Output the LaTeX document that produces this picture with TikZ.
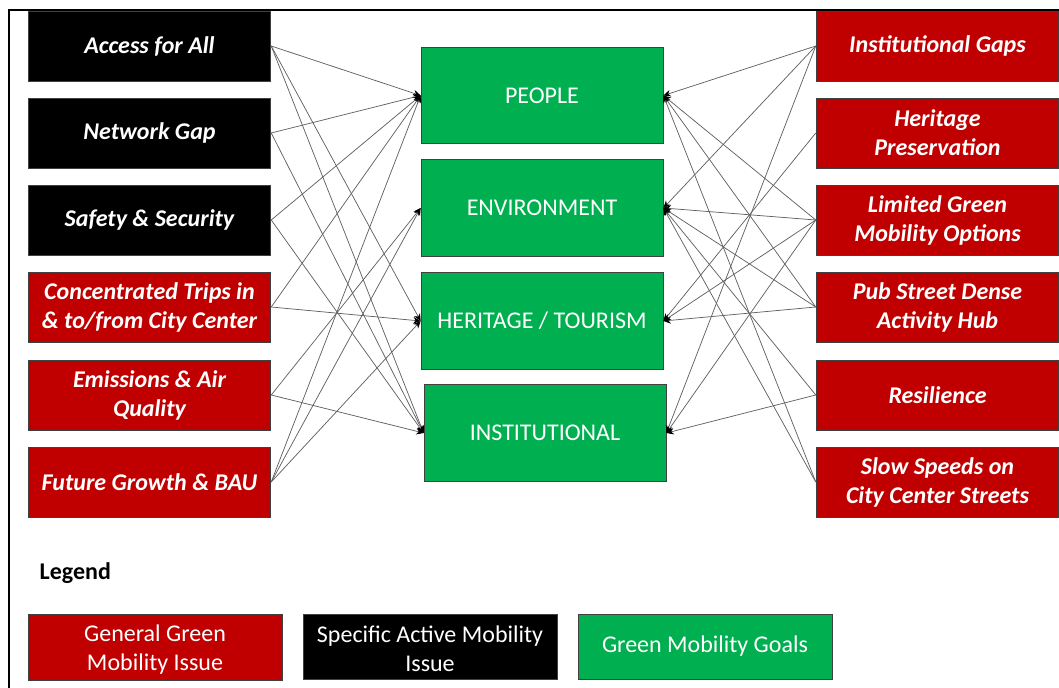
\documentclass[tikz,border=0pt]{standalone}
\usepackage{fontspec}
\setmainfont{Carlito}
\usetikzlibrary{arrows.meta}
\definecolor{issuered}{HTML}{C00000}
\definecolor{goalgreen}{HTML}{00B050}
\definecolor{linkgray}{HTML}{606060}
\definecolor{edge}{HTML}{404040}

\begin{document}
\begin{tikzpicture}[x=0.75pt, y=-0.75pt,
  box/.style={draw=edge, line width=0.6pt, text=white, align=center, inner sep=0pt,
    minimum width=182pt, minimum height=52.5pt, font=\fontsize{18}{21.75}\selectfont},
  general/.style={box, fill=issuered, font=\fontsize{18}{21.75}\selectfont\bfseries\itshape},
  specific/.style={box, fill=black, font=\fontsize{18}{21.75}\selectfont\bfseries\itshape},
  goal/.style={box, fill=goalgreen, minimum width=181.5pt, minimum height=72.5pt},
  legendbox/.style={box, minimum width=190.5pt, minimum height=49pt},
  link/.style={draw=linkgray, line width=0.55pt, -{Stealth[length=5.5pt,width=5pt,black]}}
]
  \useasboundingbox (0,0) rectangle (1059,688);

  % Frame
  \draw[line width=1pt] (9,688) -- (9,10) -- (1059,10);

  % Active mobility issues (left)
  \node[specific] (access)   at (149.5,46)  {Access for All};
  \node[specific] (network)  at (149.5,133) {Network Gap};
  \node[specific] (safety)   at (149.5,220) {Safety \& Security};
  \node[general]  (trips)    at (149.5,307) {Concentrated Trips in\\\& to/from City Center};
  \node[general]  (emission) at (149.5,395) {Emissions \& Air\\Quality};
  \node[general]  (growth)   at (149.5,482) {Future Growth \& BAU};

  % Goals
  \node[goal] (people)   at (542,95.5) {PEOPLE};
  \node[goal] (environ)  at (542,208)  {ENVIRONMENT};
  \node[goal] (heritage) at (542,321)  {HERITAGE / TOURISM};
  \node[goal] (institut) at (545,433)  {INSTITUTIONAL};

  % Green mobility issues (right)
  \node[general] (gaps)     at (937.5,46)  {Institutional Gaps};
  \node[general] (preserve) at (937.5,133) {Heritage\\Preservation};
  \node[general] (options)  at (937.5,220) {Limited Green\\Mobility Options};
  \node[general] (pub)      at (937.5,307) {Pub Street Dense\\Activity Hub};
  \node[general] (resil)    at (937.5,395) {Resilience};
  \node[general] (slow)     at (937.5,482) {Slow Speeds on\\City Center Streets};

  % Links into the goals
  \foreach \a/\b in {access/people, access/heritage, access/institut,
                     network/people, network/institut,
                     safety/people, safety/institut,
                     trips/people, trips/heritage,
                     emission/environ, emission/institut,
                     growth/people, growth/environ, growth/heritage}
    \draw[link] (\a.east) -- (\b.west);

  \foreach \a/\b in {gaps/people, gaps/environ, gaps/institut,
                     preserve/heritage,
                     options/people, options/environ, options/heritage, options/institut,
                     pub/people, pub/environ, pub/heritage,
                     resil/environ, resil/institut,
                     slow/people, slow/environ}
    \draw[link] (\a.west) -- (\b.east);

  % Legend
  \node[anchor=west, font=\fontsize{18}{21.75}\selectfont\bfseries] (legend) at (35,573) {Legend};
  \node[legendbox, fill=issuered] (leggeneral)  at (155,647.5) {\strut General Green\\Mobility Issue};
  \node[legendbox, fill=black]    (legspecific) at (430,647)   {\strut Specific Active Mobility\\Issue};
  \node[legendbox, fill=goalgreen] (leggoal)    at (705,647)   {\strut Green Mobility Goals};
\end{tikzpicture}
\end{document}
